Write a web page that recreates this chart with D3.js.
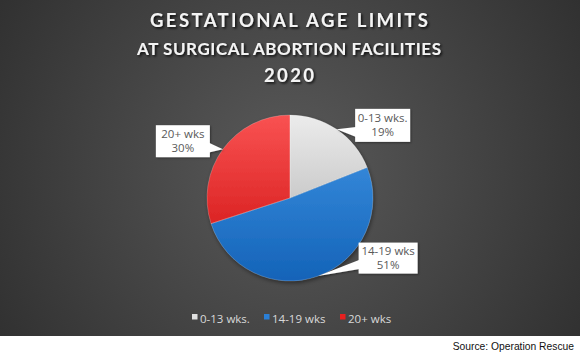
<!DOCTYPE html>
<html><head><meta charset="utf-8">
<script src="https://cdn.jsdelivr.net/npm/d3@7/dist/d3.min.js"></script>
<style>html,body{margin:0;padding:0;background:#fff;}svg{display:block;}</style>
</head><body>
<script>
const titleLines = ["GESTATIONAL AGE LIMITS", "AT SURGICAL ABORTION FACILITIES", "2020"];
const categories = ["0-13 wks.", "14-19 wks", "20+ wks"];
const values = [19, 51, 30];
const sourceText = "Source: Operation Rescue";

const W = 580, H = 360, panelH = 336;
const svg = d3.select("body").append("svg").attr("width", W).attr("height", H);
const defs = svg.append("defs");

const bg = defs.append("radialGradient").attr("id","bg").attr("gradientUnits","userSpaceOnUse")
  .attr("cx",290).attr("cy",170).attr("r",360);
bg.append("stop").attr("offset","0").attr("stop-color","#5a5a5a");
bg.append("stop").attr("offset","1").attr("stop-color","#2e2e2e");

const cx = 290, cy = 198, r = 83;
const grads = [["#ececec","#a9a9a9"],["#4196e6","#1463b8"],["#f95252","#cc0c0c"]];
grads.forEach((g,i)=>{
  const lg = defs.append("linearGradient").attr("id","g"+i).attr("gradientUnits","userSpaceOnUse")
    .attr("x1",0).attr("y1",-r).attr("x2",0).attr("y2",r);
  lg.append("stop").attr("offset","0").attr("stop-color",g[0]);
  lg.append("stop").attr("offset","1").attr("stop-color",g[1]);
});
const legendColors = ["#e0e0e0","#2a7fd6","#e82020"];

const sh = defs.append("filter").attr("id","tsh").attr("x","-10%").attr("y","-30%").attr("width","120%").attr("height","160%");
sh.append("feDropShadow").attr("dx",1.5).attr("dy",1.5).attr("stdDeviation",1.2).attr("flood-color","#000").attr("flood-opacity",0.8);
const psh = defs.append("filter").attr("id","psh").attr("x","-20%").attr("y","-20%").attr("width","140%").attr("height","140%");
psh.append("feDropShadow").attr("dx",1).attr("dy",2).attr("stdDeviation",2).attr("flood-color","#000").attr("flood-opacity",0.45);
const lsh = defs.append("filter").attr("id","lsh").attr("x","-20%").attr("y","-20%").attr("width","140%").attr("height","140%");
lsh.append("feDropShadow").attr("dx",1).attr("dy",1).attr("stdDeviation",1).attr("flood-color","#000").attr("flood-opacity",0.4);

svg.append("rect").attr("width",W).attr("height",panelH).attr("fill","url(#bg)");

// Title
const titleWidths = [278, 304, 50];
const titleSizes = [18.5, 17, 18.5];
const titleY = [27, 55, 82];
const title = svg.append("g").attr("filter","url(#tsh)");
titleLines.forEach((t,i)=>{
  title.append("text").attr("x",289).attr("y",titleY[i])
    .attr("text-anchor","middle")
    .attr("font-family","Lato, 'Open Sans', sans-serif").attr("font-weight","bold")
    .attr("font-size",titleSizes[i]).attr("fill","#f4f4f4")
    .attr("textLength",titleWidths[i]).attr("lengthAdjust","spacing")
    .text(t);
});

// Pie
const pie = d3.pie().sort(null).value(d=>d)(values);
const arc = d3.arc().innerRadius(0).outerRadius(r);
const g = svg.append("g").attr("transform",`translate(${cx},${cy})`);
g.append("g").attr("filter","url(#psh)").selectAll("path").data(pie).join("path")
  .attr("d",arc).attr("fill",(d,i)=>`url(#g${i})`);
g.append("g").selectAll("path").data(pie).join("path").attr("d",arc)
  .attr("fill","none").attr("stroke","rgba(255,255,255,0.35)").attr("stroke-width",0.6);

// Labels (callouts)
const labelOffsets = [[46,-4],[70,-18],[-40,-8]];
const boxSizes = [[55,33],[59,31],[54,32]];
pie.forEach((d,i)=>{
  const a = (d.startAngle+d.endAngle)/2;
  const tx = Math.sin(a)*r, ty = -Math.cos(a)*r;
  const bx = tx+labelOffsets[i][0], by = ty+labelOffsets[i][1];
  const [bw,bh] = boxSizes[i];
  const x0 = bx-bw/2, y0 = by-bh/2;
  const lg = g.append("g").attr("filter","url(#lsh)");
  let p;
  if (labelOffsets[i][0] > 0) {
    p = [[tx,ty],[x0+1,y0+bh*0.55],[x0+1,y0+bh*0.85]];
  } else {
    p = [[tx,ty],[x0+bw-1,y0+bh*0.55],[x0+bw-1,y0+bh*0.85]];
  }
  lg.append("path").attr("d",d3.line()(p)+"Z").attr("fill","#fff");
  lg.append("rect").attr("x",x0).attr("y",y0).attr("width",bw).attr("height",bh).attr("fill","#fff");
  const txt = g.append("text").attr("text-anchor","middle")
    .attr("font-family","'Open Sans', Lato, sans-serif").attr("font-size",11.5).attr("fill","#595959");
  txt.append("tspan").attr("x",bx).attr("y",by-3).text(categories[i]);
  txt.append("tspan").attr("x",bx).attr("y",by+11).text(d3.format(".0f")(d.data/d3.sum(values)*100)+"%");
});

// Legend
const legendX = [192, 264, 340];
const leg = svg.append("g");
categories.forEach((c,i)=>{
  leg.append("rect").attr("x",legendX[i]).attr("y",314).attr("width",5.5).attr("height",5.5).attr("fill",legendColors[i]);
  leg.append("text").attr("x",legendX[i]+8).attr("y",322.5)
    .attr("font-family","'Open Sans', Lato, sans-serif").attr("font-size",11.5).attr("fill","#d9d9d9").text(c);
});

svg.append("text").attr("x",574).attr("y",350).attr("text-anchor","end")
  .attr("font-family","'Liberation Sans', Arial, sans-serif").attr("font-size",10.3).attr("fill","#111").text(sourceText);
</script>
</body></html>
